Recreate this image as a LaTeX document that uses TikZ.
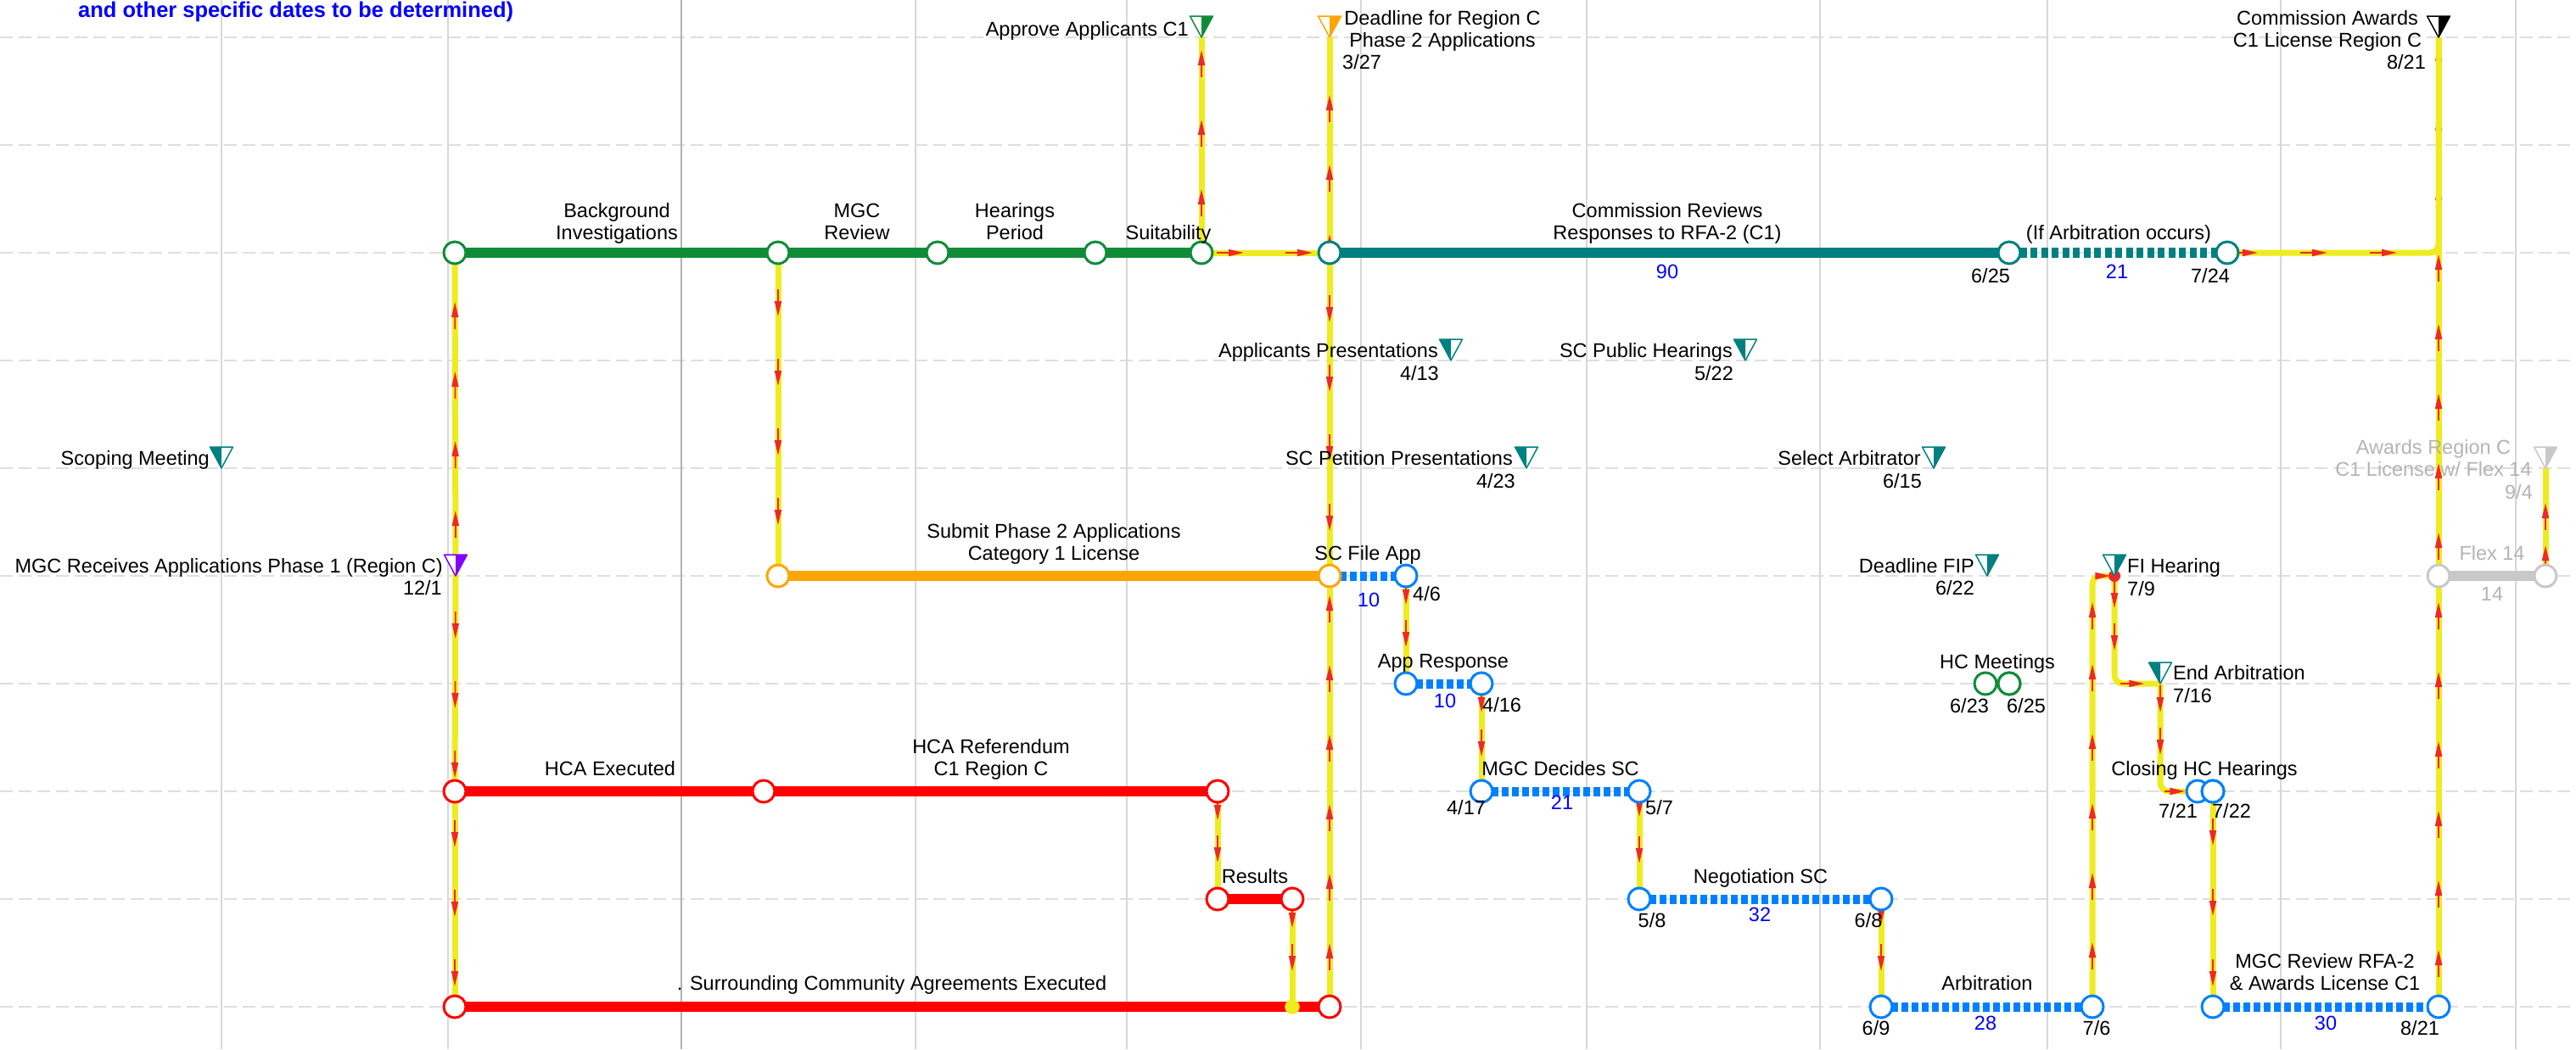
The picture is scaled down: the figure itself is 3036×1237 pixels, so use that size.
\documentclass[tikz,border=0pt]{standalone}
\usepackage{fontspec}
\setmainfont{Liberation Sans}
\usetikzlibrary{arrows.meta,decorations.markings}
\pgfdeclarelayer{gridl}
\pgfdeclarelayer{tasks}
\pgfdeclarelayer{conns}
\pgfsetlayers{gridl,tasks,conns,main}
\definecolor{grn}{RGB}{16,140,56}
\definecolor{tealc}{RGB}{0,128,128}
\definecolor{orng}{RGB}{255,165,0}
\definecolor{redc}{RGB}{255,0,0}
\definecolor{bluc}{RGB}{0,128,255}
\definecolor{grayc}{RGB}{200,200,200}
\definecolor{graytx}{RGB}{180,180,180}
\definecolor{yel}{RGB}{238,236,30}
\definecolor{arrred}{RGB}{238,40,40}
\definecolor{purp}{RGB}{128,0,255}
\definecolor{numblue}{RGB}{0,0,255}
\definecolor{gridc}{RGB}{222,222,222}
\definecolor{vgrid}{RGB}{215,215,215}
\definecolor{vgridd}{RGB}{178,178,178}
\begin{document}
\begin{tikzpicture}[x=1pt,y=-1pt,
  lb/.style={inner sep=0pt, font=\fontsize{23.5}{26}\selectfont, align=center},
  num/.style={lb, text=numblue},
  gtx/.style={lb, text=graytx},
  tc/.style={circle, minimum size=26pt, inner sep=0pt, line width=3pt, fill=white, draw=#1},
  solidtask/.style={line width=12pt, draw=#1},
  dashtask/.style={line width=11pt, draw=#1, dash pattern=on 7.5pt off 4.5pt},
  conn/.style={draw=yel, line width=7pt, rounded corners=10pt},
  arrmark/.style 2 args={postaction={decorate, decoration={markings,
     mark=between positions #1 and -6pt step #2 with {\draw[draw=arrred, line width=1.8pt, -{Triangle[length=18pt,width=8pt]}] (-32pt,0pt) -- (0pt,0pt);}}}},
  amk/.style 2 args={postaction={decorate, decoration={markings,
     mark=at position #1 with {\draw[draw=arrred, line width=1.8pt, -{Triangle[length=18pt,width=8pt]}] (-#2,0pt) -- (0pt,0pt);}}}},
  pics/msL/.style={code={
     \fill[white] (-13.5,-25) -- (13.5,-25) -- (0,0) -- cycle;
     \fill[#1] (-13.5,-25) -- (0,-25) -- (0,0) -- cycle;
     \draw[#1, line width=1.5pt, line join=round] (-13.5,-25) -- (13.5,-25) -- (0,0) -- cycle;}},
  pics/msR/.style={code={
     \fill[white] (-13.5,-25) -- (13.5,-25) -- (0,0) -- cycle;
     \fill[#1] (0,-25) -- (13.5,-25) -- (0,0) -- cycle;
     \draw[#1, line width=1.5pt, line join=round] (-13.5,-25) -- (13.5,-25) -- (0,0) -- cycle;}}
]
\useasboundingbox (0,0) rectangle (3036,1237);

% ---------- grid ----------
\begin{pgfonlayer}{gridl}
\fill[white] (0,0) rectangle (3036,1237);
\foreach \yy in {44,171,298,425,552,679,806,933,1060,1187}
  \draw[gridc, line width=2pt, dash pattern=on 15pt off 7pt] (0,\yy) -- (3036,\yy);
\foreach \xx in {261,528,1079,1328,1604,1870,2145,2413,2688,2965}
  \draw[vgrid, line width=1.6pt] (\xx,0) -- (\xx,1237);
\draw[vgridd, line width=2pt] (803,0) -- (803,1237);
\end{pgfonlayer}

% ---------- title ----------
\node[anchor=base west, inner sep=0pt, font=\bfseries\fontsize{25.5}{28}\selectfont, text=numblue] (title) at (92,20) {and other specific dates to be determined)};

% ---------- task end points ----------
\node[tc=grn] (g1) at (536,298) {};
\node[tc=grn] (g2) at (917,298) {};
\node[tc=grn] (g3) at (1105,298) {};
\node[tc=grn] (g4) at (1291,298) {};
\node[tc=grn] (g5) at (1416,298) {};
\node[tc=tealc] (t1) at (1567,298) {};
\node[tc=tealc] (t2) at (2368,298) {};
\node[tc=tealc] (t3) at (2625,298) {};
\node[tc=orng] (o1) at (917,679) {};
\node[tc=orng] (o2) at (1567,679) {};
\node[tc=bluc] (b2) at (1657,679) {};
\node[tc=bluc] (b3) at (1657,806) {};
\node[tc=bluc] (b4) at (1746,806) {};
\node[tc=bluc] (b5) at (1746,933) {};
\node[tc=bluc] (b6) at (1932,933) {};
\node[tc=bluc] (b7) at (1932,1060) {};
\node[tc=bluc] (b8) at (2217,1060) {};
\node[tc=bluc] (b9) at (2217,1187) {};
\node[tc=bluc] (b10) at (2466,1187) {};
\node[tc=bluc] (b11) at (2590,933) {};
\node[tc=bluc] (b12) at (2608,933) {};
\node[tc=bluc] (b13) at (2608,1187) {};
\node[tc=bluc] (b14) at (2874,1187) {};
\node[tc=redc] (r1) at (536,933) {};
\node[tc=redc] (r2) at (900,933) {};
\node[tc=redc] (r3) at (1435,933) {};
\node[tc=redc] (r4) at (1435,1060) {};
\node[tc=redc] (r5) at (1523,1060) {};
\node[tc=redc] (r6) at (536,1187) {};
\node[tc=redc] (r7) at (1567,1187) {};
\node[circle, fill=yel, draw=yel, minimum size=17pt, inner sep=0pt] (yd) at (1523,1187) {};
\node[tc=grn] (h1) at (2340,806) {};
\node[tc=grn] (h2) at (2368,806) {};
\node[tc=grayc] (f1) at (2874,679) {};
\node[tc=grayc] (f2) at (3000,679) {};

% ---------- milestone points ----------
\coordinate (mApp) at (1416,44);
\coordinate (mDead) at (1567,44);
\coordinate (mAward) at (2874,44);
\coordinate (mAppl) at (1710,425);
\coordinate (mSCPH) at (2057,425);
\coordinate (mScop) at (261,552);
\coordinate (mSCPP) at (1799,552);
\coordinate (mSel) at (2279,552);
\coordinate (mFlexA) at (3000,552);
\coordinate (mMGCR) at (537,679);
\coordinate (mFIP) at (2342,679);
\coordinate (mFIH) at (2492,679);
\coordinate (mEnd) at (2546,806);

% ---------- task bars ----------
\begin{pgfonlayer}{tasks}
\draw[solidtask=grn] (g1.center) -- (g5.center);
\draw[solidtask=tealc] (t1.center) -- (t2.center);
\draw[dashtask=tealc, line width=12pt, dash pattern=on 8pt off 4.5pt] (t2.center) -- (t3.center);
\draw[solidtask=orng] (o1.center) -- (o2.center);
\draw[dashtask=bluc] (o2.center) -- (b2.center);
\draw[dashtask=bluc] (b3.center) -- (b4.center);
\draw[dashtask=bluc] (b5.center) -- (b6.center);
\draw[dashtask=bluc] (b7.center) -- (b8.center);
\draw[dashtask=bluc] (b9.center) -- (b10.center);
\draw[dashtask=bluc] (b13.center) -- (b14.center);
\draw[solidtask=redc] (r1.center) -- (r3.center);
\draw[solidtask=redc] (r4.center) -- (r5.center);
\draw[solidtask=redc] (r6.center) -- (r7.center);
\draw[solidtask=grayc] (f1.center) -- (f2.center);
\end{pgfonlayer}

% ---------- connectors ----------
\begin{pgfonlayer}{conns}
\draw[conn, arrmark={77pt}{82pt}] (mMGCR) -- (g1.center);
\draw[conn, arrmark={74pt}{82pt}] (mMGCR) -- (r1.center);
\draw[conn, arrmark={66pt}{82pt}] (r1.center) -- (r6.center);
\draw[conn, arrmark={75pt}{82pt}] (g2.center) -- (o1.center);
\draw[conn, arrmark={75pt}{82pt}] (g5.center) -- (mApp);
\draw[conn, arrmark={50pt}{81pt}] (g5.center) -- (t1.center);
\draw[conn, arrmark={22pt}{82pt}] (t1.center) -- (mDead);
\draw[conn, arrmark={82pt}{82pt}] (t1.center) -- (o2.center);
\draw[conn, arrmark={75pt}{82pt}] (r7.center) -- (o2.center);
\draw[conn, arrmark={34pt}{50pt}] (b2.center) -- (b3.center);
\draw[conn, arrmark={34pt}{52pt}] (b4.center) -- (b5.center);
\draw[conn, arrmark={30pt}{55pt}] (b6.center) -- (b7.center);
\draw[conn, arrmark={30pt}{55pt}] (b8.center) -- (b9.center);
\draw[conn, arrmark={34pt}{50pt}] (r3.center) -- (r4.center);
\draw[conn, arrmark={34pt}{51pt}] (r5.center) -- (yd.center);
\draw[conn, amk={76pt}{32pt}, amk={158pt}{32pt}, amk={240pt}{32pt}, amk={322pt}{32pt},
      amk={404pt}{32pt}, amk={477pt}{32pt}, amk={525pt}{17pt}] (b10.center) |- (mFIH);
\draw[conn, amk={38pt}{32pt}, amk={88pt}{32pt}, amk={158pt}{28pt}] (mFIH) |- (mEnd);
\draw[conn, amk={34pt}{32pt}, amk={84pt}{32pt}, amk={152pt}{24pt}] (mEnd) |- (b11.center);
\draw[conn, arrmark={64pt}{83pt}] (b12.center) -- (b13.center);
\draw[conn, arrmark={67pt}{82pt}] (b14.center) -- (mAward);
\draw[conn, amk={36pt}{32pt}, amk={118pt}{32pt}, amk={200pt}{32pt}] (t3.center) -| (mAward);
\draw[conn, arrmark={36pt}{50pt}] (f2.center) -- (mFlexA);
\end{pgfonlayer}

% redraw overlapping circles on top
\node[tc=bluc] at (b12) {};
\node[tc=grn] at (h2) {};
\node[circle, fill=arrred, minimum size=14pt, inner sep=0pt] (fiDot) at (mFIH) {};

% ---------- milestone markers ----------
\pic at (mApp) {msR=grn};
\pic at (mDead) {msR=orng};
\pic at (mAward) {msR=black};
\pic at (mAppl) {msL=tealc};
\pic at (mSCPH) {msL=tealc};
\pic at (mScop) {msL=tealc};
\pic at (mSCPP) {msL=tealc};
\pic at (mSel) {msR=tealc};
\pic at (mFlexA) {msR=grayc};
\pic at (mMGCR) {msR=purp};
\pic at (mFIP) {msR=tealc};
\pic at (mFIH) {msR=tealc};
\pic at (mEnd) {msL=tealc};

% ---------- labels ----------
% row 0
\node[lb, anchor=base east] (lApp) at (1401,42) {Approve Applicants C1};
\node[lb, anchor=base] (lDead) at (1700,55.5) {Deadline for Region C\\Phase 2 Applications};
\node[lb, anchor=base west] (lDeadD) at (1582,81.5) {3/27};
\node[lb, anchor=base] (lAward) at (2743,55.5) {Commission Awards\\C1 License Region C};
\node[lb, anchor=base east] (lAwardD) at (2859,81.5) {8/21};
% row 2
\node[lb, anchor=base] (lBI) at (727,282) {Background\\Investigations};
\node[lb, anchor=base] (lMR) at (1010,282) {MGC\\Review};
\node[lb, anchor=base] (lHP) at (1196,282) {Hearings\\Period};
\node[lb, anchor=base] (lSu) at (1377,282) {Suitability};
\node[lb, anchor=base] (lCR) at (1965,282) {Commission Reviews\\Responses to RFA-2 (C1)};
\node[lb, anchor=base] (lIfA) at (2497,282) {(If Arbitration occurs)};
\node[num, anchor=base] (n90) at (1965,328.5) {90};
\node[num, anchor=base] (n21a) at (2495,328.5) {21};
\node[lb, anchor=base] (d625a) at (2346,333) {6/25};
\node[lb, anchor=base] (d724) at (2605,333) {7/24};
% row 3
\node[lb, anchor=base east] (lAP) at (1695,421.5) {Applicants Presentations};
\node[lb, anchor=base east] (dAP) at (1696,448.5) {4/13};
\node[lb, anchor=base east] (lPH) at (2042,421.5) {SC Public Hearings};
\node[lb, anchor=base east] (dPH) at (2043,448.5) {5/22};
% row 4
\node[lb, anchor=base east] (lSM) at (247,548.5) {Scoping Meeting};
\node[lb, anchor=base east] (lPP) at (1783,548.5) {SC Petition Presentations};
\node[lb, anchor=base east] (dPP) at (1786,575.5) {4/23};
\node[lb, anchor=base east] (lSA) at (2264,548.5) {Select Arbitrator};
\node[lb, anchor=base east] (dSA) at (2265,575) {6/15};
\node[gtx, anchor=base] (lARC) at (2868,561.5) {Awards Region C\\C1 License w/ Flex 14};
\node[gtx, anchor=base east] (dARC) at (2985,588) {9/4};
% row 5
\node[lb, anchor=base east] (lMGCR) at (522,675.5) {MGC Receives Applications Phase 1 (Region C)};
\node[lb, anchor=base east] (dMGCR) at (521,701.5) {12/1};
\node[lb, anchor=base] (lSub) at (1242,660.5) {Submit Phase 2 Applications\\Category 1 License};
\node[lb, anchor=base] (lSCF) at (1612,660.5) {SC File App};
\node[num, anchor=base] (n10a) at (1613,715.5) {10};
\node[lb, anchor=base west] (d46) at (1665,708.5) {4/6};
\node[lb, anchor=base east] (lFIP) at (2327,675.5) {Deadline FIP};
\node[lb, anchor=base east] (dFIP) at (2327,701.5) {6/22};
\node[lb, anchor=base west] (lFIH) at (2507,675.5) {FI Hearing};
\node[lb, anchor=base west] (dFIH) at (2507,702) {7/9};
\node[gtx, anchor=base] (lFlex) at (2937,660.5) {Flex 14};
\node[gtx, anchor=base] (n14) at (2937,708.5) {14};
% row 6
\node[lb, anchor=base] (lAR2) at (1701,787.5) {App Response};
\node[num, anchor=base] (n10b) at (1703,834.5) {10};
\node[lb, anchor=base west] (d416) at (1747,839) {4/16};
\node[lb, anchor=base] (lHC) at (2354,788.5) {HC Meetings};
\node[lb, anchor=base] (d623) at (2321,840.5) {6/23};
\node[lb, anchor=base] (d625b) at (2388,840.5) {6/25};
\node[lb, anchor=base west] (lEA) at (2561,801.5) {End Arbitration};
\node[lb, anchor=base west] (dEA) at (2561,828.5) {7/16};
% row 7
\node[lb, anchor=base] (lHCA) at (719,914.5) {HCA Executed};
\node[lb, anchor=base] (lHCR) at (1168,914.5) {HCA Referendum\\C1 Region C};
\node[lb, anchor=base] (lMD) at (1839,914.5) {MGC Decides SC};
\node[num, anchor=base] (n21b) at (1841,954) {21};
\node[lb, anchor=base] (d417) at (1728,960) {4/17};
\node[lb, anchor=base west] (d57) at (1939,960) {5/7};
\node[lb, anchor=base] (lCH) at (2598,914.5) {Closing HC Hearings};
\node[lb, anchor=base] (d721) at (2567,964.5) {7/21};
\node[lb, anchor=base] (d722) at (2630,964.5) {7/22};
% row 8
\node[lb, anchor=base] (lRes) at (1479,1041.5) {Results};
\node[lb, anchor=base] (lNeg) at (2075,1041) {Negotiation SC};
\node[lb, anchor=base] (d58) at (1947,1093.5) {5/8};
\node[num, anchor=base] (n32) at (2074,1086.5) {32};
\node[lb, anchor=base] (d68) at (2202,1093.5) {6/8};
% row 9
\node[lb, anchor=base] (lSur) at (1051,1167.5) {. Surrounding Community Agreements Executed};
\node[lb, anchor=base] (lArb) at (2342,1167.5) {Arbitration};
\node[lb, anchor=base] (lMRR) at (2740,1167.5) {MGC Review RFA-2\\\& Awards License C1};
\node[lb, anchor=base] (d69) at (2211,1220.5) {6/9};
\node[num, anchor=base] (n28) at (2340,1214.5) {28};
\node[lb, anchor=base] (d76) at (2471,1220.5) {7/6};
\node[num, anchor=base] (n30) at (2741,1214.5) {30};
\node[lb, anchor=base] (d821) at (2852,1220.5) {8/21};
\end{tikzpicture}
\end{document}
